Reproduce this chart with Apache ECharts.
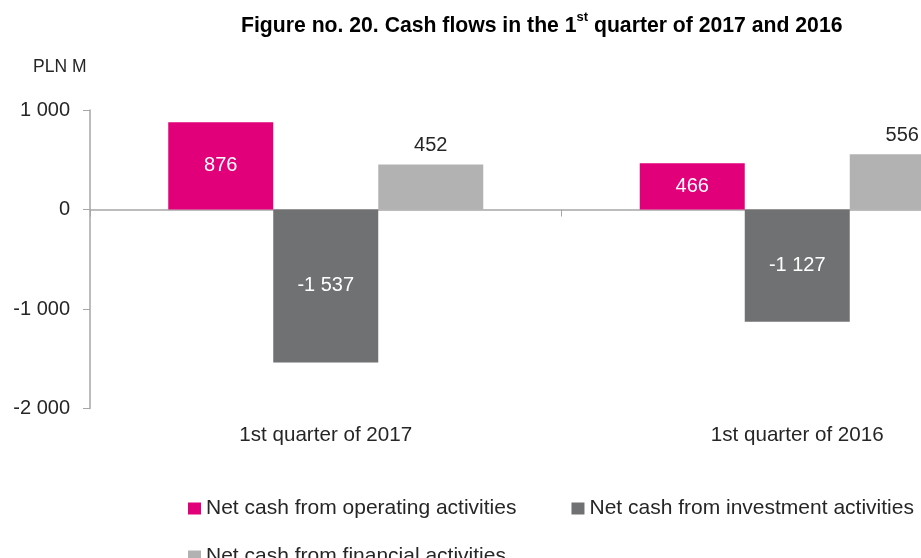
<!DOCTYPE html>
<html>
<head>
<meta charset="utf-8">
<script src="https://cdn.jsdelivr.net/npm/echarts@6/dist/echarts.min.js"></script>
<style>
html,body{margin:0;padding:0;background:#fff;}
#chart{width:921px;height:558px;}
</style>
</head>
<body>
<div id="chart"></div>
<script>
var categories = ['1st quarter of 2017', '1st quarter of 2016'];
var seriesNames = ['Net cash from operating activities', 'Net cash from investment activities', 'Net cash from financial activities'];
var operating = [876, 466];
var investment = [-1537, -1127];
var financial = [452, 556];
var yTicks = [-2000, -1000, 0, 1000];

var colors = ['#E2007A', '#707173', '#B2B2B2'];
var FONT = '"Liberation Sans", Arial, sans-serif';

function fmt(v) {
  var s = String(Math.abs(v)).replace(/\B(?=(\d{3})+(?!\d))/g, ' ');
  return (v < 0 ? '-' : '') + s;
}

var chart = echarts.init(document.getElementById('chart'), null, {renderer: 'canvas'});

function barSeries(name, data, color, inside) {
  return {
    name: name,
    type: 'bar',
    xAxisIndex: 0,
    data: data,
    barWidth: 105,
    barGap: '0%',
    itemStyle: {color: color},
    label: {
      show: true,
      position: inside ? 'inside' : 'top',
      distance: 9,
      color: inside ? '#ffffff' : '#262626',
      fontFamily: FONT,
      fontSize: 20,
      formatter: function (p) { return fmt(p.value); }
    },
    emphasis: {disabled: true}
  };
}

chart.setOption({
  animation: false,
  textStyle: {fontFamily: FONT},
  title: {
    text: '{a|Figure no. 20. Cash flows in the 1}{s|st}{a| quarter of 2017 and 2016}',
    left: 236,
    top: 6,
    textStyle: {
      rich: {
        a: {fontFamily: FONT, fontWeight: 'bold', fontSize: 21.2, color: '#000', lineHeight: 26, verticalAlign: 'bottom'},
        s: {fontFamily: FONT, fontWeight: 'bold', fontSize: 13, color: '#000', lineHeight: 13, verticalAlign: 'top'}
      }
    }
  },
  graphic: [{
    type: 'text',
    left: 33,
    top: 58,
    style: {text: 'PLN M', font: '17.5px ' + FONT, fill: '#262626'}
  }],
  legend: [{
    data: [seriesNames[0], seriesNames[1]],
    left: 183,
    top: 493,
    orient: 'horizontal',
    icon: 'rect',
    itemWidth: 13,
    itemHeight: 12,
    itemGap: 55,
    textStyle: {fontFamily: FONT, fontSize: 21, color: '#262626'},
    selectedMode: false
  }, {
    data: [seriesNames[2]],
    left: 183,
    top: 541,
    orient: 'horizontal',
    icon: 'rect',
    itemWidth: 13,
    itemHeight: 12,
    textStyle: {fontFamily: FONT, fontSize: 21, color: '#262626'},
    selectedMode: false
  }],
  grid: {
    left: 90,
    right: -112,
    top: 110,
    bottom: 149.5,
    containLabel: false,
    outerBoundsMode: 'none'
  },
  xAxis: [{
    type: 'category',
    data: categories,
    axisLine: {show: true, onZero: true, lineStyle: {color: '#A6A6A6', width: 1.5}},
    axisTick: {show: true, length: 7, interval: 0, lineStyle: {color: '#A6A6A6'}},
    axisLabel: {show: false},
    splitLine: {show: false}
  }, {
    type: 'category',
    data: categories,
    position: 'bottom',
    axisLine: {show: false, onZero: false},
    axisTick: {show: false},
    axisLabel: {show: true, margin: 16, fontFamily: FONT, fontSize: 20.6, color: '#262626'},
    splitLine: {show: false}
  }],
  yAxis: {
    type: 'value',
    min: yTicks[0],
    max: yTicks[yTicks.length - 1],
    interval: 1000,
    axisLine: {show: true, lineStyle: {color: '#A6A6A6', width: 1.5}},
    axisTick: {show: true, length: 7, lineStyle: {color: '#A6A6A6'}},
    axisLabel: {margin: 20, fontFamily: FONT, fontSize: 20, color: '#262626', formatter: function (v) { return fmt(v); }},
    splitLine: {show: false}
  },
  series: [
    barSeries(seriesNames[0], operating, colors[0], true),
    barSeries(seriesNames[1], investment, colors[1], true),
    barSeries(seriesNames[2], financial, colors[2], false)
  ]
});
</script>
</body>
</html>
